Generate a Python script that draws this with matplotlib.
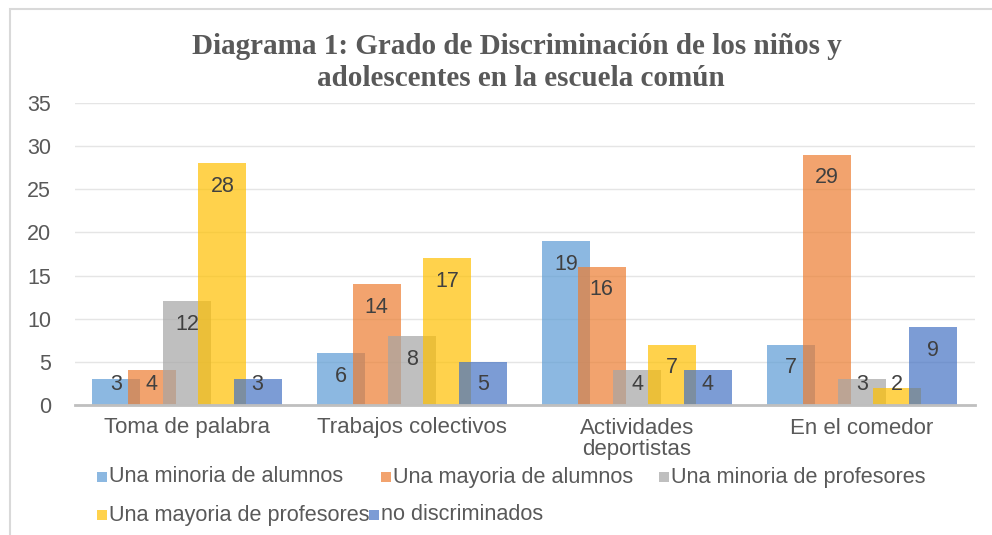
import matplotlib
matplotlib.use("Agg")
import matplotlib.pyplot as plt
from matplotlib.patches import Rectangle
import numpy as np

categories = ["Toma de palabra", "Trabajos colectivos", "Actividades\ndeportistas", "En el comedor"]
series_names = ["Una minoria de alumnos", "Una mayoria de alumnos", "Una minoria de profesores",
                "Una mayoria de profesores", "no discriminados"]
minoria_alumnos = [3, 6, 19, 7]
mayoria_alumnos = [4, 14, 16, 29]
minoria_profesores = [12, 8, 4, 3]
mayoria_profesores = [28, 17, 7, 2]
no_discriminados = [3, 5, 4, 9]
series_values = [minoria_alumnos, mayoria_alumnos, minoria_profesores, mayoria_profesores, no_discriminados]
colors = ["#5B9BD5", "#ED7D31", "#A5A5A5", "#FFC000", "#4472C4"]
yticks = [0, 5, 10, 15, 20, 25, 30, 35]
title = "Diagrama 1: Grado de Discriminación de los niños y\nadolescentes en la escuela común"

W, H = 992, 535
fig = plt.figure(figsize=(W / 100, H / 100), dpi=100)
fig.patch.set_facecolor("white")
# outer border
fig.patches.append(Rectangle((10 / W, -0.1), 1.2, (H - 9) / H + 0.1, transform=fig.transFigure,
                             fill=False, edgecolor="#D9D9D9", linewidth=1.5))

ax = fig.add_axes([74.5 / W, (H - 405) / H, 900 / W, 302 / H])
x = np.arange(len(categories))
step, width = 0.157, 0.213
txt = "#404040"
for i, (vals, c) in enumerate(zip(series_values, colors)):
    pos = x + (i - 2) * step
    ax.bar(pos, vals, width=width, color=c, alpha=0.7, zorder=2 + i, linewidth=0)
    for p, v in zip(pos, vals):
        ax.text(p, max(v - 2.67, 2.38), str(v), ha="center", va="center", fontsize=15.5,
                color=txt, family="Liberation Sans", zorder=20)

ax.set_xlim(-0.5, len(categories) - 0.5)
ax.set_ylim(0, 35)
ax.set_yticks(yticks)
ax.set_yticklabels([str(t) for t in yticks], fontsize=15.5, color="#595959", family="Liberation Sans")
ax.set_xticks(x)
ax.set_xticklabels(categories, fontsize=16, color="#595959", family="Liberation Sans",
                   linespacing=1.0)
ax.tick_params(axis="both", length=0)
ax.tick_params(axis="y", pad=17)
ax.tick_params(axis="x", pad=9)
ax.grid(axis="y", color="#E5E5E5", linewidth=1.0, zorder=0)
ax.set_axisbelow(True)
for s in ["top", "right", "left"]:
    ax.spines[s].set_visible(False)
ax.spines["bottom"].set_color("#BFBFBF")
ax.spines["bottom"].set_linewidth(2)
ax.spines["bottom"].set_zorder(30)

fig.text(517 / W, 1 - 47 / H, title.split("\n")[0], ha="center", va="center", fontsize=21,
         fontweight="bold", family="Liberation Serif", color="#595959")
fig.text(521 / W, 1 - 78 / H, title.split("\n")[1], ha="center", va="center", fontsize=21,
         fontweight="bold", family="Liberation Serif", color="#595959")

# legend
legend_items = [(0, 97, 477), (1, 381, 477), (2, 659, 477), (3, 97, 515), (4, 369, 515)]
for idx, lx, ly in legend_items:
    fig.patches.append(Rectangle((lx / W, 1 - (ly + 5) / H), 10 / W, 10 / H, transform=fig.transFigure,
                                 facecolor=colors[idx], alpha=0.7, edgecolor="none"))
    fig.text((lx + 12) / W, 1 - ly / H, series_names[idx], ha="left", va="center", fontsize=15.6,
             color="#595959", family="Liberation Sans")

fig.savefig("out.png", dpi=100)
